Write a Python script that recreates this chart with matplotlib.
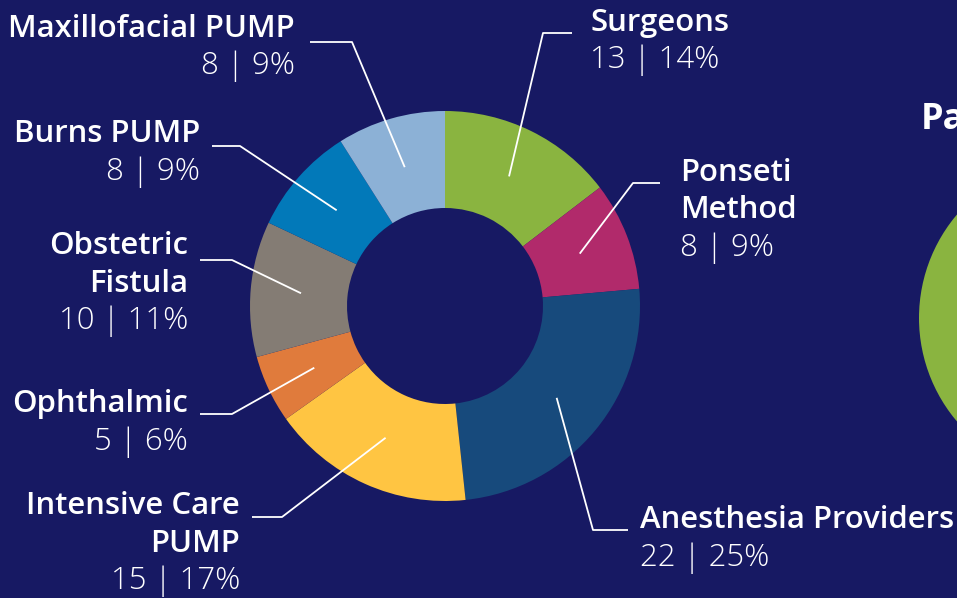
import matplotlib
matplotlib.use("Agg")
import matplotlib.pyplot as plt
import numpy as np

# data
labels = ["Surgeons", "Ponseti\nMethod", "Anesthesia Providers", "Intensive Care\nPUMP",
          "Ophthalmic", "Obstetric\nFistula", "Burns PUMP", "Maxillofacial PUMP"]
counts = [13, 8, 22, 15, 5, 10, 8, 8]
pcts = [14, 9, 25, 17, 6, 11, 9, 9]
colors = ["#8ab440", "#b12a6b", "#174a7c", "#ffc542",
          "#e07b3c", "#847c74", "#0279b9", "#8cb1d6"]

BG = "#171963"
W, H = 957, 598

# label layout in pixel coords (elbow x, elbow y, line end x, text x, text top y, align)
layout = [
    (543, 33, 572, 590, 23, "left"),
    (633, 183, 660, 680, 173, "left"),
    (593, 530, 628, 640, 520, "left"),
    (282, 517, 252, 240, 506, "right"),
    (232, 414, 200, 188, 404, "right"),
    (232, 260, 200, 188, 246, "right"),
    (240, 146, 212, 200, 134, "right"),
    (352, 42, 310, 295, 29, "right"),
]

fig = plt.figure(figsize=(W / 100, H / 100), dpi=100, facecolor=BG)
ax = fig.add_axes([0, 0, 1, 1])
ax.set_facecolor(BG)

cx, cy = 445, H - 306
R, r_in = 195, 98

wedges, _ = ax.pie(counts, colors=colors, startangle=90, counterclock=False,
                   radius=R, center=(cx, cy), frame=True,
                   wedgeprops=dict(width=R - r_in, linewidth=0))
ax.set_xlim(0, W)
ax.set_ylim(0, H)
ax.set_aspect("equal")
ax.axis("off")

fs = 22.4
for w, lab, n, p, (ex, ey, lx, tx, ty, ha) in zip(wedges, labels, counts, pcts, layout):
    ang = np.deg2rad((w.theta1 + w.theta2) / 2)
    rr = r_in + (R - r_in) * 0.48
    px, py = cx + rr * np.cos(ang), cy + rr * np.sin(ang)
    ax.plot([px, ex, lx], [py, H - ey, H - ey], color="white", lw=1.3,
            solid_capstyle="butt")
    y = H - ty
    for line in lab.split("\n"):
        ax.text(tx, y, line, color="white", fontsize=fs, fontweight="semibold",
                family="Open Sans", ha=ha, va="center")
        y -= 37.5
    ax.text(tx, y, f"{n} | {p}%", color="white", fontsize=fs, fontweight="light",
            family="Open Sans", ha=ha, va="center")

# edge of the neighbouring chart, cut off by the frame
circ = plt.Circle((1079, H - 318), 160, color="#8ab440", lw=0)
ax.add_patch(circ)
ax.text(921, H - 120, "Pa", color="white", fontsize=26, fontweight="bold",
        family="Open Sans", ha="left", va="center")

fig.savefig("out.png", dpi=100, facecolor=BG)
